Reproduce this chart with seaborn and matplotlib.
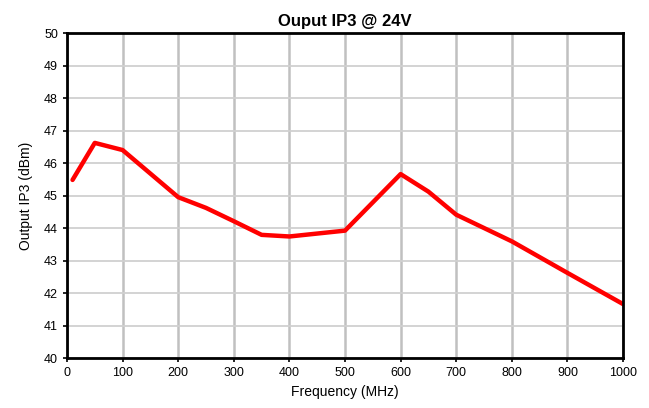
import numpy as np
import pandas as pd
import matplotlib
matplotlib.use("Agg")
import matplotlib.pyplot as plt
import seaborn as sns

# values
freq_mhz = [10, 50, 100, 200, 250, 300, 350, 400, 500, 600, 650, 700, 800, 900, 1000]
oip3_dbm = [45.48, 46.62, 46.40, 44.95, 44.62, 44.21, 43.79, 43.74, 43.92,
            45.66, 45.12, 44.41, 43.59, 42.62, 41.66]

sns.set_style("white")
plt.rcParams['font.family'] = ['Liberation Sans', 'DejaVu Sans']
plt.rcParams['text.color'] = 'black'
plt.rcParams['axes.labelcolor'] = 'black'

df = pd.DataFrame({"Frequency (MHz)": freq_mhz, "Output IP3 (dBm)": oip3_dbm})

fig = plt.figure(figsize=(6.49, 4.08), dpi=100)
ax = fig.add_axes([0.1032, 0.1225, 0.8568, 0.7965])

sns.lineplot(data=df, x="Frequency (MHz)", y="Output IP3 (dBm)", ax=ax,
             color="#ff0000", linewidth=3.2, zorder=3)

ax.set_xlim(0, 1000)
ax.set_ylim(40, 50)
ax.set_xticks(np.arange(0, 1001, 100))
ax.set_yticks(np.arange(40, 51, 1))

ax.xaxis.grid(True, color="#c0c0c0", linewidth=1.8)
ax.yaxis.grid(True, color="#d0d0d0", linewidth=1.3)
ax.set_axisbelow(True)

for s in ax.spines.values():
    s.set_color("black")
    s.set_linewidth(2.0)
    s.set_zorder(4)

ax.tick_params(axis="both", direction="out", length=3, width=1.2,
               labelsize=9, colors="black", bottom=True, left=True)

ax.set_title("Ouput IP3 @ 24V", fontsize=12, fontweight="bold", pad=5, color="black")
ax.set_xlabel("Frequency (MHz)", fontsize=10, labelpad=4, color="black")
ax.set_ylabel("Output IP3 (dBm)", fontsize=10, labelpad=8, color="black")

fig.savefig("out.png", dpi=100)
